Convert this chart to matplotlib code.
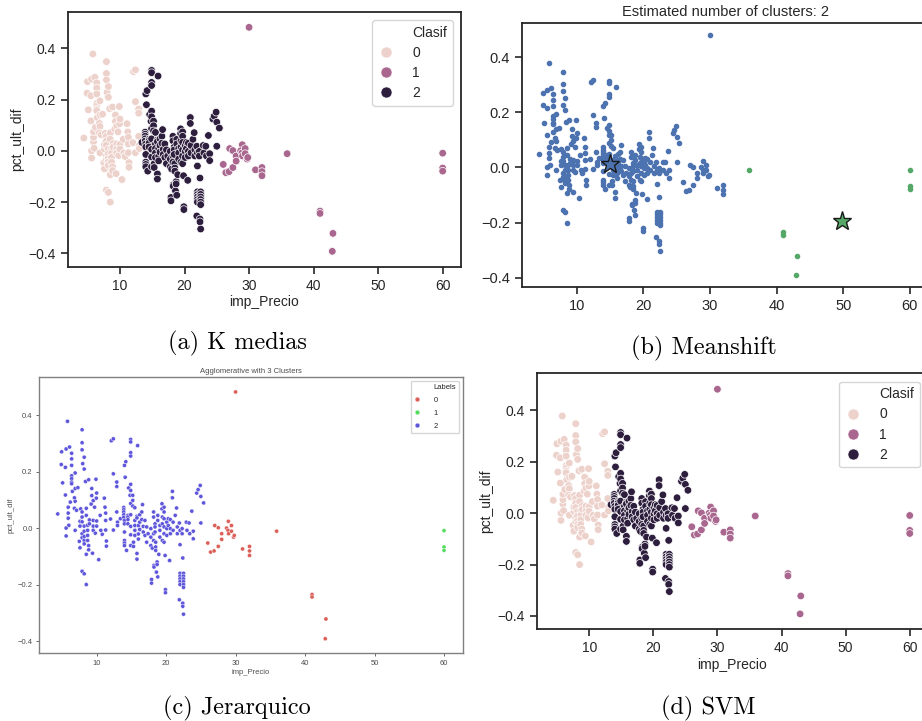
import numpy as np
import matplotlib.pyplot as plt
import seaborn as sns
from matplotlib.lines import Line2D

# --- datos (imp_Precio, pct_ult_dif), por grupos ---
# grupo A: precios bajos
grpA_x = [4.4, 4.96, 4.9, 5.1, 5.5, 5.5, 5.8, 5.6, 6.1, 5.6, 5.6, 5.9, 5.9, 5.9, 6.2, 6.0,
          6.4, 6.4, 6.4, 6.4, 6.4, 6.4, 6.4, 6.5, 6.9, 6.9, 6.8, 6.9, 6.8, 6.9, 7.3, 7.1,
          7.5, 7.6, 7.6, 7.6, 7.7, 7.9, 7.9, 7.9, 8.0, 8.2, 8.2, 8.4, 7.9, 8.2, 8.5, 8.5,
          7.9, 7.9, 7.9, 7.9, 7.9, 8.2, 8.2, 8.2, 8.2, 8.2, 8.5, 8.5, 8.7, 8.7, 8.7, 8.7,
          8.85, 8.85, 8.85, 8.95, 8.95, 9.3, 9.3, 9.2, 9.4, 9.5, 9.5, 9.5, 9.5, 9.7, 9.8,
          9.9, 9.95, 10.0, 10.0, 10.0, 10.3, 10.5, 10.6, 10.8, 11.1, 11.2, 11.3, 11.3, 11.3,
          11.4, 11.4, 12.0, 12.1, 12.4, 12.4, 12.4, 12.9, 12.9, 12.9, 13.0, 13.0]
grpA_y = [0.05, 0.27, 0.225, 0.16, 0.215, 0.117, 0.378, 0.28, 0.287, -0.028, 0.0, 0.035,
          0.053, 0.074, 0.092, 0.01, 0.265, 0.245, 0.222, 0.185, 0.175, 0.163, 0.157, 0.13,
          0.14, 0.195, 0.107, 0.095, 0.07, -0.008, 0.143, 0.063, -0.047, 0.007, 0.024, -0.07,
          0.068, 0.348, 0.302, 0.277, 0.228, 0.209, 0.251, 0.165, -0.153, -0.162, -0.2, -0.093,
          0.057, 0.039, 0.022, -0.02, -0.034, 0.007, -0.011, -0.03, -0.044, -0.056, 0.07, 0.045,
          0.01, -0.008, -0.026, -0.044, 0.171, -0.062, -0.077, 0.029, 0.015, 0.14, 0.115, 0.085,
          -0.089, 0.097, 0.027, 0.007, -0.008, 0.074, -0.018, 0.173, 0.106, 0.124, 0.025, 0.007,
          -0.112, 0.045, -0.008, -0.022, 0.106, 0.074, 0.053, 0.027, -0.007, -0.046, -0.064,
          0.032, 0.309, 0.316, 0.192, -0.007, 0.163, 0.147, 0.057, 0.021, 0.009]
# grupo B: precios medios
grpB_x = [13.4, 14.0, 14.2, 14.1, 13.9, 13.9, 13.9, 13.9, 13.9, 14.0, 14.0, 14.0, 14.0, 14.0,
          14.0, 14.3, 14.5, 14.5, 14.5, 14.5, 14.6, 14.8, 14.9, 14.9, 14.9, 14.9, 14.9, 14.9,
          14.9, 14.9, 14.9, 14.9, 14.9, 15.2, 15.2, 15.2, 15.3, 15.3, 15.5, 15.5, 15.5, 15.5,
          15.5, 15.8, 15.8, 15.9, 15.8, 15.8, 16.0, 16.0, 16.0, 16.2, 16.2, 16.2, 16.5, 16.5,
          16.6, 16.7, 16.7, 16.95, 16.95, 17.2, 17.2, 17.4, 17.8, 17.8, 17.8, 17.9, 17.9, 18.0,
          18.2, 18.2, 18.2, 18.2, 18.25, 18.25, 18.4, 18.4, 18.4, 18.5, 18.5, 18.5, 18.6, 18.7,
          18.7, 18.8, 18.8, 18.8, 18.95, 19.1, 19.1, 19.1, 19.4, 19.4, 19.45, 19.45, 19.45,
          19.7, 19.7, 19.7, 19.7, 19.7, 19.7, 19.85, 19.9, 19.9, 20.1, 20.1, 20.1, 20.3, 20.3,
          20.5, 20.6, 20.6, 20.6, 20.9, 20.9, 21.0, 21.0, 21.3, 21.5, 21.6, 21.6, 21.9, 22.0,
          22.0, 21.9, 22.0, 22.0, 22.0, 22.0, 22.0, 22.5, 22.5, 22.5, 22.5, 22.5, 22.5, 22.4,
          22.4, 22.4, 22.5, 22.3, 22.3, 22.9, 23.0, 23.3, 23.4, 23.7, 23.9, 23.9, 24.4, 24.6,
          24.9, 25.0, 25.0, 25.4]
grpB_y = [0.033, 0.222, 0.235, 0.18, 0.073, 0.065, 0.057, 0.047, 0.038, 0.027, 0.015, -0.014,
          -0.044, -0.053, -0.062, -0.079, 0.045, 0.039, 0.03, 0.015, 0.142, 0.116, 0.314, 0.305,
          0.267, 0.255, 0.155, 0.133, 0.087, 0.047, 0.006, -0.024, -0.062, 0.116, 0.098, 0.078,
          -0.05, -0.065, 0.072, 0.027, 0.009, -0.008, -0.026, -0.09, -0.11, 0.292, 0.042, 0.036,
          0.009, -0.021, -0.039, 0.047, 0.021, -0.005, 0.057, 0.03, 0.083, 0.006, -0.014, 0.027,
          -0.026, 0.004, -0.05, -0.02, -0.002, -0.032, -0.062, -0.182, -0.195, -0.071, 0.057,
          0.039, -0.02, -0.044, -0.132, -0.138, 0.015, 0.004, -0.014, -0.05, -0.067, -0.079,
          -0.156, -0.12, -0.129, -0.173, 0.045, 0.027, -0.093, 0.009, -0.008, -0.032, 0.086,
          0.068, 0.039, 0.015, -0.044, 0.074, 0.057, 0.033, 0.004, -0.02, -0.05, -0.097, -0.218,
          -0.229, 0.021, -0.002, -0.026, 0.033, 0.009, -0.115, 0.03, -0.002, -0.02, 0.13, 0.107,
          0.021, -0.008, 0.045, 0.071, 0.004, -0.02, 0.018, -0.059, -0.008, -0.254, -0.16, -0.17,
          -0.18, -0.19, -0.2, -0.16, -0.17, -0.18, -0.19, -0.2, -0.21, -0.106, -0.266, -0.277,
          -0.305, -0.002, -0.02, 0.021, -0.008, 0.018, -0.02, 0.06, -0.011, -0.038, 0.124, 0.136,
          0.151, 0.112, 0.018, 0.089]
# grupo C1: 26-32
grpC1_x = [26.0, 26.4, 26.9, 27.0, 27.5, 27.5, 28.0, 28.0, 28.95, 28.7, 28.9, 29.0, 29.4, 29.4,
           29.7, 29.8, 30.0, 31.0, 32.0, 32.0, 32.0]
grpC1_y = [-0.053, -0.085, -0.081, 0.009, 0.001, -0.065, -0.02, -0.04, 0.024, 0.0, -0.008, -0.02,
           0.009, -0.011, -0.032, -0.026, 0.482, -0.074, -0.065, -0.081, -0.097]
# grupo C2: 36-43
grpC2_x = [35.9, 41.0, 41.0, 43.0, 42.9]
grpC2_y = [-0.011, -0.235, -0.244, -0.322, -0.392]
# grupo D: 60
grpD_x = [60.0, 60.0, 60.0]
grpD_y = [-0.009, -0.067, -0.079]

groups_x = [grpA_x, grpB_x, grpC1_x, grpC2_x, grpD_x]
groups_y = [grpA_y, grpB_y, grpC1_y, grpC2_y, grpD_y]

# etiqueta de cada grupo en cada metodo
kmeans_lab = [0, 2, 1, 1, 1]
meanshift_lab = [0, 0, 0, 1, 1]
agglo_lab = [2, 2, 0, 0, 1]
svm_lab = [0, 2, 1, 1, 1]

# centros meanshift
ms_cx = [15.0, 49.8]
ms_cy = [0.013, -0.193]

X = np.concatenate(groups_x)
Y = np.concatenate(groups_y)


def expand(lab):
    return np.concatenate([np.full(len(g), l) for g, l in zip(groups_x, lab)])


sns.set_theme(style='ticks')
plt.rcParams['font.family'] = ['Liberation Sans', 'DejaVu Sans']

W, H = 922, 721
fig = plt.figure(figsize=(W / 100, H / 100), dpi=100)


def box(l, t, r, b):
    return [l / W, 1 - b / H, (r - l) / W, (b - t) / H]


xt = [10, 20, 30, 40, 50, 60]
yt = [-0.4, -0.2, 0.0, 0.2, 0.4]

cmap = sns.cubehelix_palette(as_cmap=True)
clasif_cols = [cmap(v) for v in (0.0, 0.5, 1.0)]


def clasif_panel(ax, lab, xlim, ylim):
    lab = expand(lab)
    cols = [clasif_cols[k] for k in lab]
    ax.scatter(X, Y, c=cols, s=30, edgecolors='white', linewidths=0.5)
    ax.set_xlim(xlim)
    ax.set_ylim(ylim)
    ax.set_xticks(xt)
    ax.set_yticks(yt)
    ax.tick_params(labelsize=10, length=5, width=1.2, colors='0.15')
    for s in ax.spines.values():
        s.set_linewidth(1.3)
        s.set_color('0.15')
    ax.set_xlabel('imp_Precio', fontsize=10, color='0.15', labelpad=2)
    ax.set_ylabel('pct_ult_dif', fontsize=10, color='0.15', labelpad=3)
    hs = [Line2D([], [], ls='none')]
    hs += [Line2D([], [], ls='none', marker='o', ms=8, mfc=c, mec='white', mew=0.5)
           for c in clasif_cols]
    ax.legend(hs, ['Clasif', '0', '1', '2'], loc='upper right', fontsize=10,
              frameon=True, borderaxespad=0.6, handlelength=1.2, handletextpad=1.3,
              labelspacing=0.45)


# (a) K medias
ax_a = fig.add_axes(box(67.7, 11.7, 461, 266.7))
clasif_panel(ax_a, kmeans_lab, (1.9, 62.84), (-0.452, 0.543))

# (d) SVM
ax_d = fig.add_axes(box(536.7, 373.3, 928, 629))
clasif_panel(ax_d, svm_lab, (1.81, 62.85), (-0.4506, 0.544))

# (b) Meanshift
ax_b = fig.add_axes(box(521.7, 23.3, 928.5, 287.3))
ms_cols = ['#4c72b0', '#55a868']
lab_b = expand(meanshift_lab)
for k, col in enumerate(ms_cols):
    m = lab_b == k
    ax_b.plot(X[m], Y[m], '.', color=col, ms=6)
    ax_b.plot(ms_cx[k], ms_cy[k], '*', mfc=col, mec='0.1', ms=14, mew=1)
ax_b.set_xlim(1.75, 62.8)
ax_b.set_ylim(-0.435, 0.523)
ax_b.set_xticks(xt)
ax_b.set_yticks(yt)
ax_b.tick_params(labelsize=10.5, length=5, width=1.2, colors='0.15')
for s in ax_b.spines.values():
    s.set_linewidth(1.3)
    s.set_color('0.15')
ax_b.set_title('Estimated number of clusters: 2', fontsize=10.5, color='0.15', pad=5)

# (c) Jerarquico
ax_c = fig.add_axes(box(39, 376.7, 463, 653.3))
hls = ['#db5f57', '#57db5f', '#5f57db']
lab_c = expand(agglo_lab)
ax_c.scatter(X, Y, c=[hls[k] for k in lab_c], s=9, edgecolors='white', linewidths=0.3)
ax_c.set_xlim(1.7, 62.73)
ax_c.set_ylim(-0.4435, 0.536)
ax_c.set_xticks(xt)
ax_c.set_yticks(yt)
ax_c.tick_params(labelsize=5.5, length=2.5, width=0.6, colors='0.3', pad=2)
for s in ax_c.spines.values():
    s.set_linewidth(1.0)
    s.set_color('0.5')
ax_c.set_xlabel('imp_Precio', fontsize=5.5, color='0.3', labelpad=2)
ax_c.set_ylabel('pct_ult_dif', fontsize=5.5, color='0.3', labelpad=2)
ax_c.set_title('Agglomerative with 3 Clusters', fontsize=5.5, color='0.3', pad=3)
hc = [Line2D([], [], ls='none')]
hc += [Line2D([], [], ls='none', marker='o', ms=3.5, mfc=c, mec='white', mew=0.3) for c in hls]
ax_c.legend(hc, ['Labels', '0', '1', '2'], loc='upper right', fontsize=5.5,
            borderaxespad=0.5, handlelength=1.0, handletextpad=1.6, labelspacing=0.75)

# subtitulos
cap = dict(family='cmr10', fontsize=17.5, ha='center', va='center', color='black')
fig.text(237 / W, 1 - 343 / H, '(a) K medias', **cap)
fig.text(704 / W, 1 - 348 / H, '(b) Meanshift', **cap)
fig.text(237 / W, 1 - 708 / H, '(c) Jerarquico', **cap)
fig.text(708 / W, 1 - 708 / H, '(d) SVM', **cap)

fig.savefig('out.png', dpi=100)
